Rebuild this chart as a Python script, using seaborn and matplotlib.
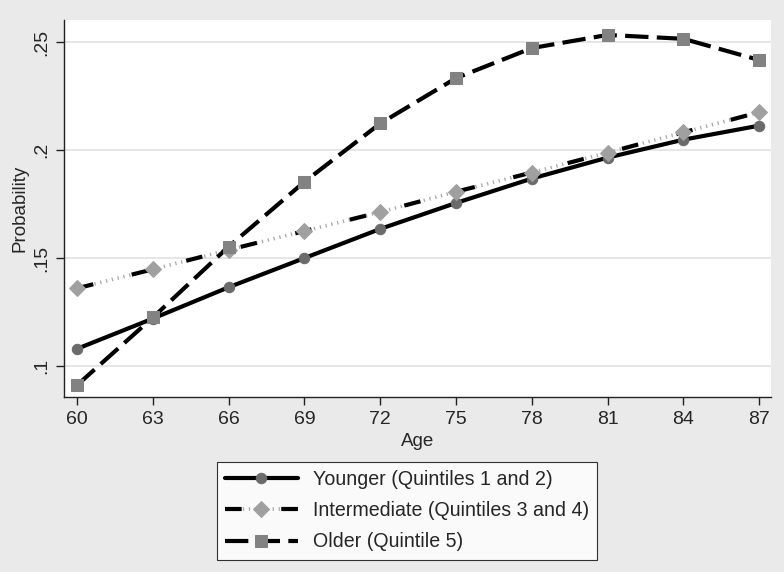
import numpy as np
import pandas as pd
import seaborn as sns
import matplotlib.pyplot as plt
from matplotlib.legend_handler import HandlerTuple

# values
ages = [60, 63, 66, 69, 72, 75, 78, 81, 84, 87]
younger = [0.108, 0.122, 0.1365, 0.150, 0.1635, 0.1755, 0.1868, 0.1965, 0.2048, 0.2113]
intermediate = [0.136, 0.1448, 0.1538, 0.1625, 0.1713, 0.1807, 0.1896, 0.1988, 0.2082, 0.2175]
older = [0.0912, 0.1225, 0.1553, 0.1853, 0.2123, 0.2333, 0.2472, 0.2533, 0.2515, 0.2417]
labels = ["Younger (Quintiles 1 and 2)",
          "Intermediate (Quintiles 3 and 4)",
          "Older (Quintile 5)"]
yticks = [0.1, 0.15, 0.2, 0.25]
yticklabels = [".1", ".15", ".2", ".25"]

sns.set_style("white")
plt.rcParams["font.family"] = ["Liberation Sans", "DejaVu Sans"]

bg = "#eaeaea"
fig = plt.figure(figsize=(7.84, 5.72), dpi=100, facecolor=bg)
ax = fig.add_axes([0.0816, 0.306, 0.9018, 0.659])
ax.set_facecolor("white")

lw = 3.0
sns.lineplot(x=ages, y=younger, ax=ax, color="black", linewidth=lw,
             marker="o", markersize=7.5, markerfacecolor="#6b6b6b",
             markeredgecolor="#6b6b6b")
h1 = ax.lines[-1]

# intermediate: gray hatched line under long-gap black dashes
sns.lineplot(x=ages, y=intermediate, ax=ax, color="#a8a8a8", linewidth=2.6,
             linestyle=(0, (0.35, 1.3)))
h2a = ax.lines[-1]
sns.lineplot(x=ages, y=intermediate, ax=ax, color="black", linewidth=lw,
             linestyle=(0, (4.0, 9.5)), marker="D", markersize=8,
             markerfacecolor="#a0a0a0", markeredgecolor="#a0a0a0")
h2b = ax.lines[-1]

sns.lineplot(x=ages, y=older, ax=ax, color="black", linewidth=lw,
             linestyle=(0, (5.6, 2.0)), marker="s", markersize=8,
             markerfacecolor="#828282", markeredgecolor="#828282")
h3 = ax.lines[-1]

ax.set_xlim(59.48, 87.47)
ax.set_ylim(0.0857, 0.2602)
ax.set_xticks(ages)
ax.set_yticks(yticks)
ax.set_yticklabels(yticklabels, rotation=90, va="center")
ax.yaxis.grid(True, color="#e2e2e2", linewidth=1.2)
ax.xaxis.grid(False)

for s in ["top", "right"]:
    ax.spines[s].set_visible(False)
for s in ["left", "bottom"]:
    ax.spines[s].set_color("#222222")
    ax.spines[s].set_linewidth(1.0)
ax.tick_params(axis="both", direction="out", length=6, width=1.0,
               color="#222222", labelsize=14, pad=4, left=True, bottom=True)
ax.set_xlabel("Age", fontsize=13.5, labelpad=4)
ax.set_ylabel("Probability", fontsize=13.5, labelpad=3)

leg = fig.legend([h1, (h2a, h2b), h3], labels,
                 handler_map={tuple: HandlerTuple(ndivide=1)},
                 loc="center", bbox_to_anchor=(0.519, 0.107),
                 fontsize=14.1, handlelength=3.75, labelspacing=0.62,
                 frameon=True, fancybox=False, edgecolor="black",
                 borderpad=0.42, handletextpad=0.75)
leg.get_frame().set_linewidth(0.8)
leg.get_frame().set_facecolor("white")

fig.savefig("out.png", dpi=100, facecolor=bg)
